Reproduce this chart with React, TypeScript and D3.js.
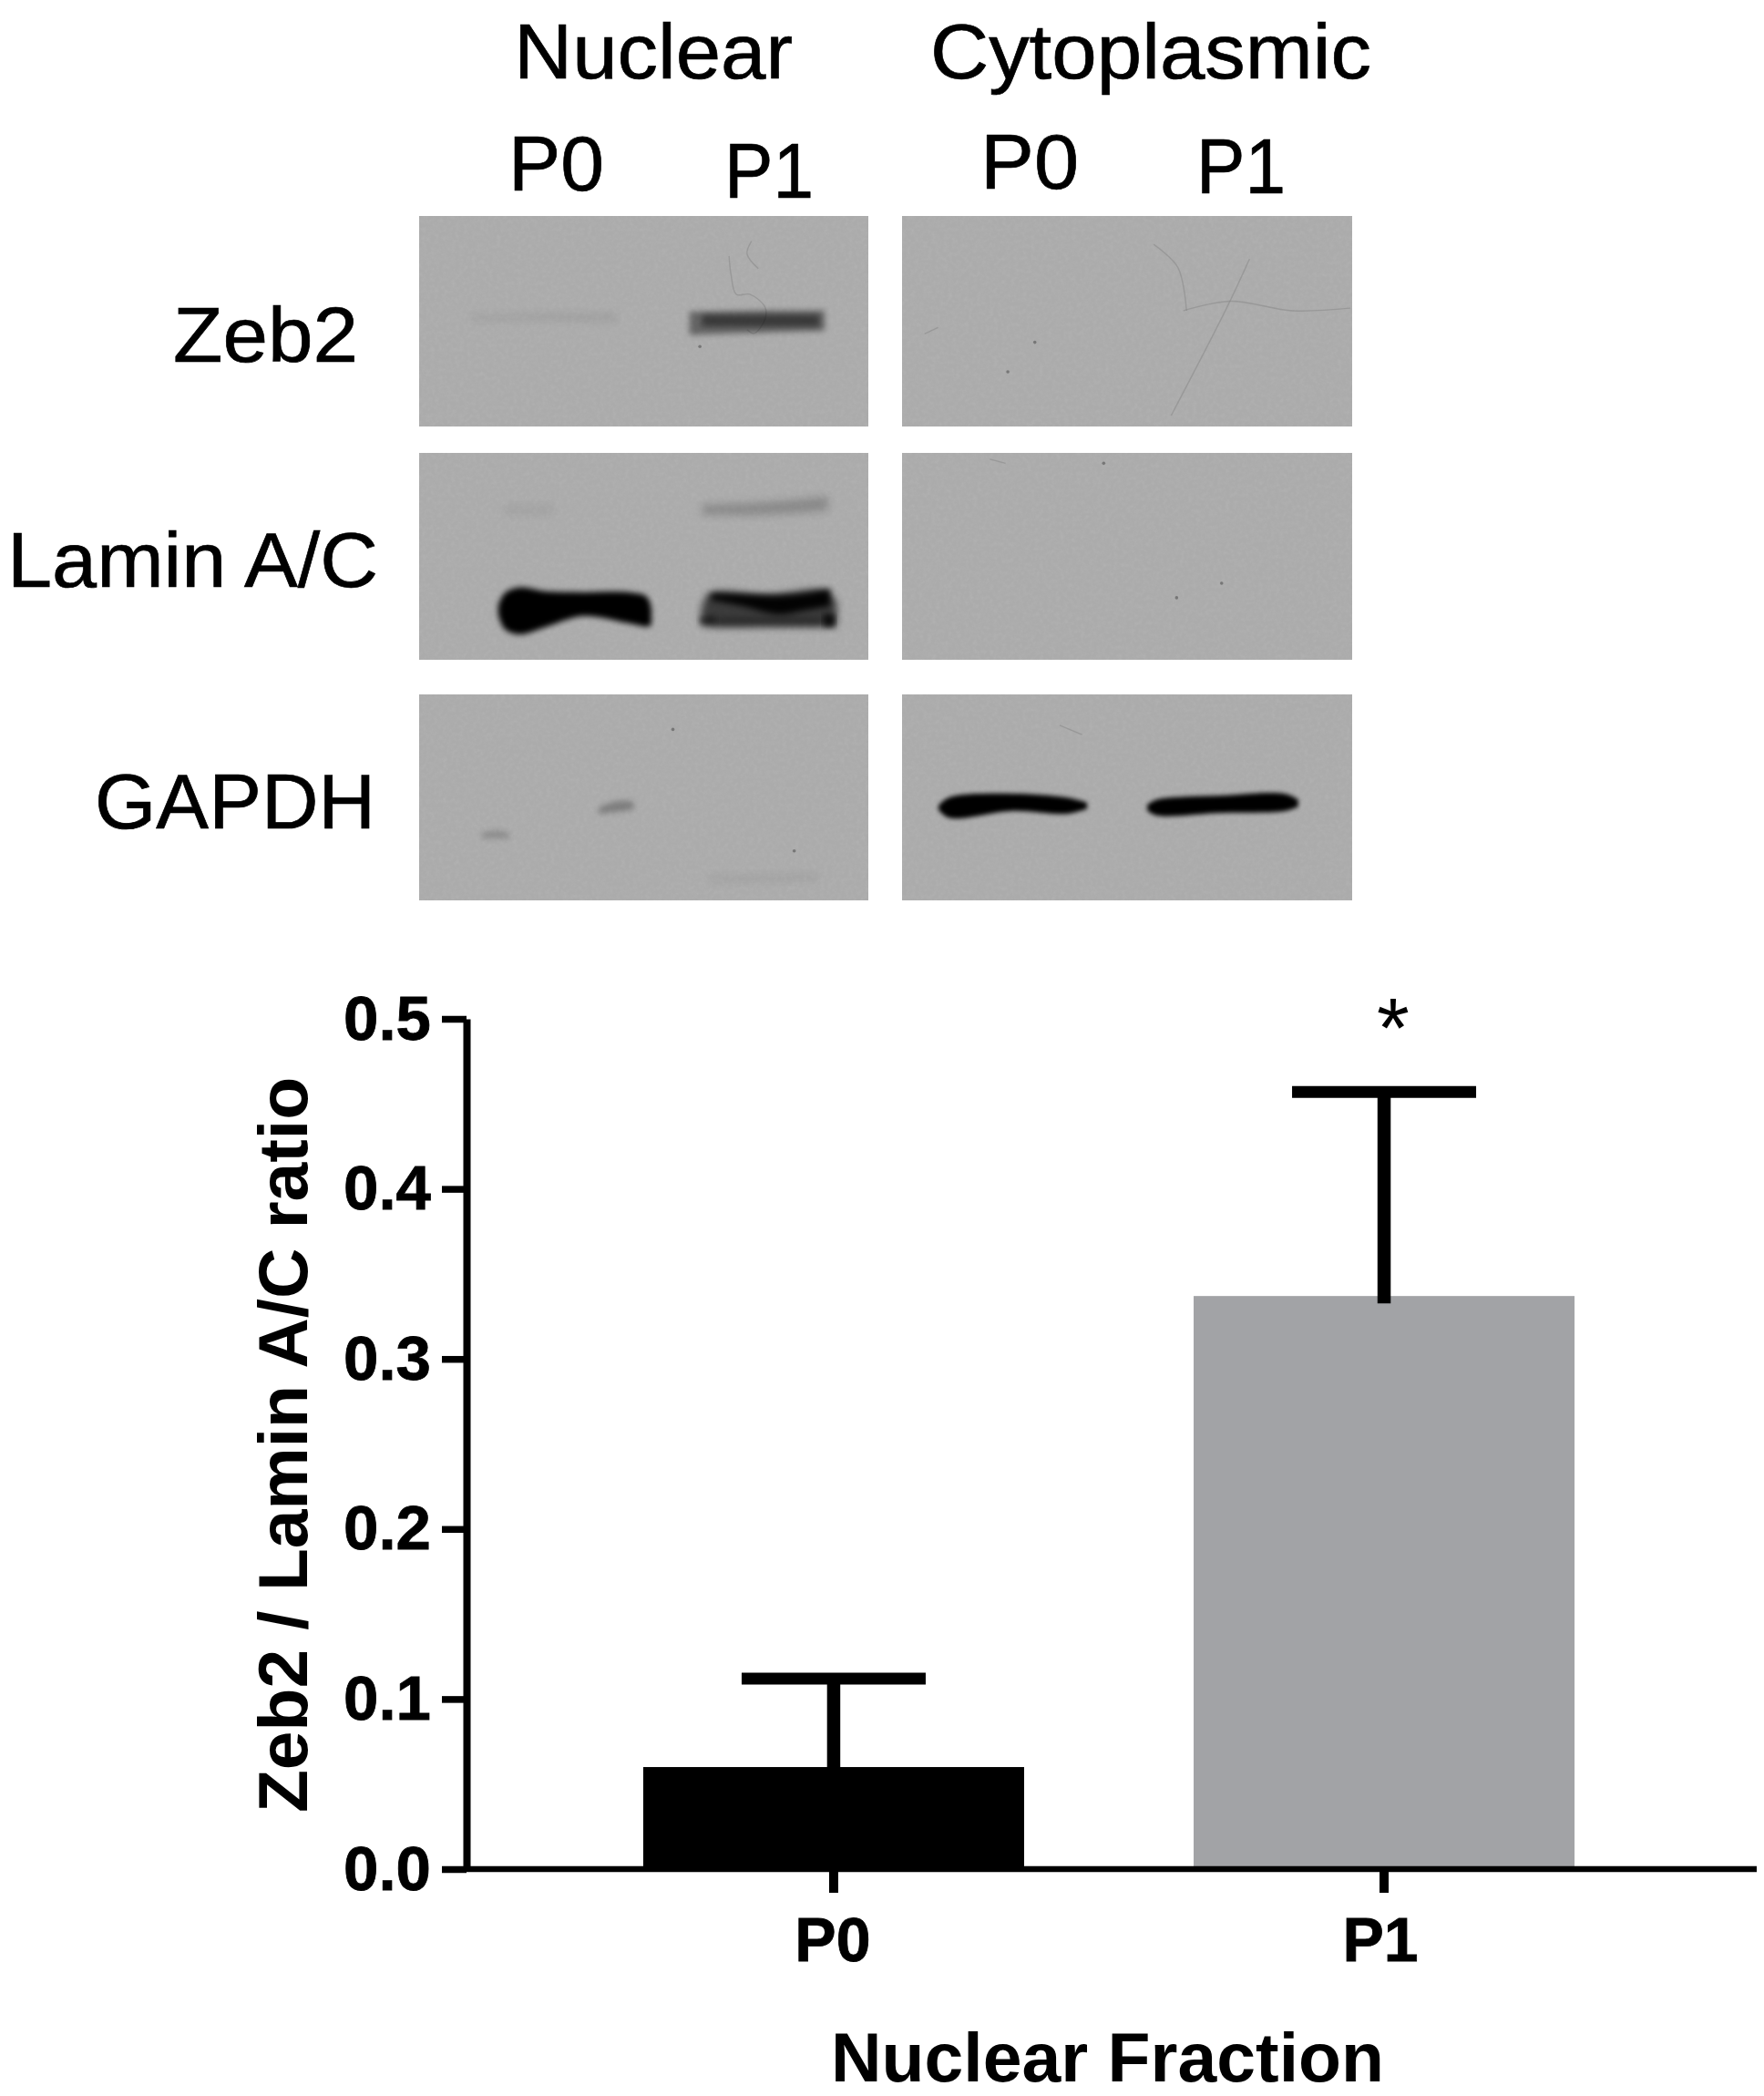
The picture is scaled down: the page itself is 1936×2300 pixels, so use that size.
import React, { useEffect, useRef } from "react";
import * as d3 from "d3";

// ---- bar chart data ----
const groups = ["P0", "P1"];
const means = [0.06, 0.337];
const errorTops = [0.112, 0.457];
const barColors = ["#000000", "#a2a3a6"];
const yTicks = [0, 0.1, 0.2, 0.3, 0.4, 0.5];

// ---- blot data: each band is [x%, top%, bottom%] profile within its panel, with a darkness ----
type Band = { panel: string; row: string; dark: number; blur: number; profile: number[][] };
const blotRows = ["Zeb2", "Lamin A/C", "GAPDH"];
const blotPanels = ["Nuclear", "Cytoplasmic"];
const bands: Band[] = [
  { panel: "Nuclear", row: "Zeb2", dark: 0.06, blur: 4, profile: [[11.5, 47, 50], [28, 46, 50], [44, 46, 51]] },
  { panel: "Nuclear", row: "Zeb2", dark: 0.42, blur: 3, profile: [[60.2, 45.5, 56.5], [75, 45, 55.5], [90.3, 45, 54.5]] },
  { panel: "Nuclear", row: "Zeb2", dark: 0.42, blur: 3, profile: [[63, 47, 52.5], [80, 47, 52.5], [89, 47, 52.5]] },
  { panel: "Nuclear", row: "Lamin A/C", dark: 0.05, blur: 5, profile: [[19, 25, 30], [30, 25, 30]] },
  { panel: "Nuclear", row: "Lamin A/C", dark: 0.2, blur: 5, profile: [[63, 25, 30], [76, 24, 30], [91, 21, 28]] },
  { panel: "Nuclear", row: "Lamin A/C", dark: 1, blur: 3, profile: [[17.6, 74, 78], [19, 68, 85], [22.3, 65, 87.7], [28.4, 67, 84], [36.5, 67.4, 78.9], [46.7, 67.4, 82.4], [50.7, 69.6, 84], [51.7, 75.3, 83.3]] },
  { panel: "Nuclear", row: "Lamin A/C", dark: 0.65, blur: 4, profile: [[62.8, 76, 83], [64.5, 68, 84], [78, 68.5, 84], [90, 66.5, 84], [93, 72, 84]] },
  { panel: "Nuclear", row: "Lamin A/C", dark: 0.95, blur: 3.5, profile: [[65, 68, 71], [72, 68.5, 74], [80, 69, 78], [86, 68, 76], [91.5, 65.5, 74]] },
  { panel: "Nuclear", row: "Lamin A/C", dark: 0.35, blur: 3.5, profile: [[66, 80, 83.5], [90, 80, 83.5]] },
  { panel: "Nuclear", row: "Lamin A/C", dark: 0.8, blur: 3, profile: [[90, 78, 84], [92.5, 78, 84]] },
  { panel: "Nuclear", row: "Lamin A/C", dark: 0.5, blur: 3, profile: [[62.5, 79, 83], [66, 79, 83]] },
  { panel: "Nuclear", row: "GAPDH", dark: 0.28, blur: 3, profile: [[40, 55, 58], [44, 52, 57], [47.7, 52, 56]] },
  { panel: "Nuclear", row: "GAPDH", dark: 0.18, blur: 3, profile: [[14, 67, 70], [17, 66, 70], [20, 67, 70]] },
  { panel: "Nuclear", row: "GAPDH", dark: 0.05, blur: 4, profile: [[64.5, 88, 91.5], [76, 87.5, 91], [89, 87, 90.5]] },
  { panel: "Cytoplasmic", row: "GAPDH", dark: 1, blur: 2.5, profile: [[8.1, 54, 56], [10.5, 50, 60], [24.3, 48.2, 56.6], [36.4, 50, 58], [41.1, 52.5, 55.5]] },
  { panel: "Cytoplasmic", row: "GAPDH", dark: 1, blur: 2.5, profile: [[54.5, 53.5, 56.5], [56.7, 51, 58.8], [70.9, 49.1, 57.5], [85, 48.2, 56.6], [88, 51, 54.5]] },
];
const scratches = [
  { panel: "Nuclear", row: "Zeb2", points: [[74, 12], [73, 18], [75.5, 25]] },
  { panel: "Nuclear", row: "Zeb2", points: [[69, 19], [69.4, 27.3], [70.6, 37.2], [73.6, 37.2], [77, 43.3], [77, 49], [74.6, 55.8], [73, 54]] },
  { panel: "Cytoplasmic", row: "Zeb2", points: [[55.9, 13.5], [61.3, 24.5], [63.2, 45]] },
  { panel: "Cytoplasmic", row: "Zeb2", points: [[62.5, 45], [72.9, 40.5], [86.8, 45], [99.6, 43.8]] },
  { panel: "Cytoplasmic", row: "Zeb2", points: [[77.2, 20.4], [72.1, 43.8], [59.8, 94.8]] },
  { panel: "Cytoplasmic", row: "Lamin A/C", points: [[19.5, 3], [23, 5]] },
  { panel: "Cytoplasmic", row: "GAPDH", points: [[35, 15], [40, 19.5]] },
  { panel: "Cytoplasmic", row: "Zeb2", points: [[5, 56], [8, 53]] },
];
const specks = [
  { panel: "Nuclear", row: "GAPDH", x: 56.5, y: 17 },
  { panel: "Nuclear", row: "GAPDH", x: 83.5, y: 76 },
  { panel: "Nuclear", row: "Zeb2", x: 62.5, y: 62 },
  { panel: "Cytoplasmic", row: "Zeb2", x: 29.5, y: 60 },
  { panel: "Cytoplasmic", row: "Zeb2", x: 23.5, y: 74 },
  { panel: "Cytoplasmic", row: "Lamin A/C", x: 44.8, y: 5 },
  { panel: "Cytoplasmic", row: "Lamin A/C", x: 71, y: 63 },
  { panel: "Cytoplasmic", row: "Lamin A/C", x: 61, y: 70 },
];

// ---- text ----
const yTitle = "Zeb2 / Lamin A/C ratio";
const xTitle = "Nuclear Fraction";
const topLabels = [
  { t: "Nuclear", x: 564, y: 86, w: 306 },
  { t: "Cytoplasmic", x: 1021, y: 86, w: 484 },
  { t: "P0", x: 558, y: 209, w: 105 },
  { t: "P1", x: 795, y: 217, w: 98 },
  { t: "P0", x: 1076, y: 207, w: 108 },
  { t: "P1", x: 1313, y: 212, w: 98 },
  { t: "Zeb2", x: 190, y: 397, w: 203 },
  { t: "Lamin A/C", x: 8, y: 644, w: 407 },
  { t: "GAPDH", x: 104, y: 909, w: 308 },
];

const FONT = "'Liberation Sans', Arial, sans-serif";
const panelX: Record<string, [number, number]> = { Nuclear: [460, 953], Cytoplasmic: [990, 1484] };
const rowY: Record<string, [number, number]> = { Zeb2: [237, 468], "Lamin A/C": [497, 724], GAPDH: [762, 988] };

const pctX = (p: string) => d3.scaleLinear().domain([0, 100]).range(panelX[p]);
const pctY = (r: string) => d3.scaleLinear().domain([0, 100]).range(rowY[r]);

const yScale = d3.scaleLinear().domain([0, 0.5]).range([2051, 1118]);
const xScale = d3.scaleBand().domain(groups).range([509, 1925]).paddingInner(0.308).paddingOuter(0.326);

function bandPath(b: Band) {
  const x = pctX(b.panel), y = pctY(b.row);
  return d3.area<number[]>().x(d => x(d[0])).y0(d => y(d[1])).y1(d => y(d[2])).curve(d3.curveCatmullRom)(b.profile) || "";
}
function scratchPath(s: { panel: string; row: string; points: number[][] }) {
  const x = pctX(s.panel), y = pctY(s.row);
  return d3.line<number[]>().x(d => x(d[0])).y(d => y(d[1])).curve(d3.curveCatmullRom)(s.points) || "";
}

export default function App() {
  const yRef = useRef<SVGGElement>(null);
  const xRef = useRef<SVGGElement>(null);

  useEffect(() => {
    const ya = d3.axisLeft(yScale).tickValues(yTicks).tickFormat(d3.format(".1f") as any).tickSize(27).tickPadding(12).tickSizeOuter(0);
    const yg = d3.select(yRef.current!).call(ya as any);
    yg.select(".domain").attr("stroke", "#000").attr("stroke-width", 8);
    yg.selectAll(".tick line").attr("stroke", "#000").attr("stroke-width", 7.5);
    yg.selectAll(".tick text").attr("fill", "#000").attr("stroke", "#000").attr("stroke-width", 0.8).attr("font-size", 69).attr("font-weight", 700).attr("font-family", FONT);
    const xa = d3.axisBottom(xScale).tickSize(26).tickPadding(0).tickSizeOuter(0);
    const xg = d3.select(xRef.current!).call(xa as any);
    xg.select(".domain").remove();
    xg.selectAll(".tick line").attr("stroke", "#000").attr("stroke-width", 10);
    xg.selectAll(".tick text").attr("fill", "#000").attr("stroke", "#000").attr("stroke-width", 0.8).attr("font-size", 68).attr("font-weight", 700).attr("font-family", FONT)
      .attr("y", 53).attr("dy", "0.71em").attr("x", (_: any, i: number) => (i === 1 ? -4 : -1));
    yg.attr("font-family", null);
    xg.attr("font-family", null);
  }, []);

  const blurs = Array.from(new Set(bands.map(b => b.blur)));

  return (
    <svg width={1936} height={2300} viewBox="0 0 1936 2300" style={{ position: "absolute", left: 0, top: 0, display: "block", background: "#fff" }}>
      <defs>
        {blurs.map(b => (
          <filter key={b} id={`blur${String(b).replace(".", "_")}`} x="-20%" y="-100%" width="140%" height="300%">
            <feGaussianBlur stdDeviation={b} />
          </filter>
        ))}
        <filter id="soft" x="-5%" y="-5%" width="110%" height="110%">
          <feGaussianBlur stdDeviation="0.7" />
        </filter>
        <filter id="grain" x="0" y="0" width="100%" height="100%">
          <feTurbulence type="fractalNoise" baseFrequency="0.22" numOctaves="3" seed="4" />
          <feColorMatrix type="matrix" values="0 0 0 0 0.5  0 0 0 0 0.5  0 0 0 0 0.5  0.9 0.9 0 0 -0.7" />
        </filter>
      </defs>

      {/* western blot panels */}
      {blotPanels.map(p =>
        blotRows.map(r => {
          const [x0, x1] = panelX[p];
          const [y0, y1] = rowY[r];
          const inPanel = (o: { panel: string; row: string }) => o.panel === p && o.row === r;
          return (
            <g key={p + r}>
              <rect x={x0} y={y0} width={x1 - x0} height={y1 - y0} fill="#ababab" />
              <rect x={x0} y={y0} width={x1 - x0} height={y1 - y0} filter="url(#grain)" opacity={0.45} />
              {scratches.filter(inPanel).map((s, i) => (
                <path key={i} d={scratchPath(s)} fill="none" stroke="#808080" strokeWidth={1.4} opacity={0.45} />
              ))}
              {specks.filter(inPanel).map((s, i) => (
                <circle key={i} cx={pctX(p)(s.x)} cy={pctY(r)(s.y)} r={1.8} fill="#767676" />
              ))}
              {bands.filter(inPanel).map((b, i) => (
                <path key={i} d={bandPath(b)} fill="#000" opacity={b.dark} filter={`url(#blur${String(b.blur).replace(".", "_")})`} />
              ))}
            </g>
          );
        })
      )}

      <g filter="url(#soft)">
        {/* blot labels */}
        {topLabels.map((l, i) => (
          <text key={i} x={l.x} y={l.y} textLength={l.w} lengthAdjust="spacingAndGlyphs" fontFamily={FONT} fontSize={86} fill="#000" stroke="#000" strokeWidth={0.7}>
            {l.t}
          </text>
        ))}

        {/* bars */}
        {groups.map((g, i) => (
          <rect key={g} x={xScale(g)!} y={yScale(means[i])} width={xScale.bandwidth()} height={yScale(0) - yScale(means[i])} fill={barColors[i]} />
        ))}
        {/* error bars */}
        {groups.map((g, i) => {
          const c = xScale(g)! + xScale.bandwidth() / 2;
          return (
            <g key={g} stroke="#000">
              <line x1={c} x2={c} y1={yScale(means[i]) + 8} y2={yScale(errorTops[i])} strokeWidth={14.5} />
              <line x1={c - 101} x2={c + 101} y1={yScale(errorTops[i])} y2={yScale(errorTops[i])} strokeWidth={13} />
            </g>
          );
        })}

        {/* axes */}
        <g ref={yRef} transform="translate(512,0)" />
        <g ref={xRef} transform="translate(0,2051)" />
        <line x1={512} x2={1928} y1={yScale(0)} y2={yScale(0)} stroke="#000" strokeWidth={6.5} />

        <text x={1529} y={1160} textAnchor="middle" fontFamily={FONT} fontSize={92} fill="#000">*</text>
        <text transform="translate(337,1989) rotate(-90)" textLength={807} lengthAdjust="spacingAndGlyphs" fontFamily={FONT} fontSize={76} fontWeight={700} fill="#000">
          {yTitle}
        </text>
        <text x={912} y={2284} textLength={607} lengthAdjust="spacingAndGlyphs" fontFamily={FONT} fontSize={76} fontWeight={700} fill="#000">
          {xTitle}
        </text>
      </g>
    </svg>
  );
}
